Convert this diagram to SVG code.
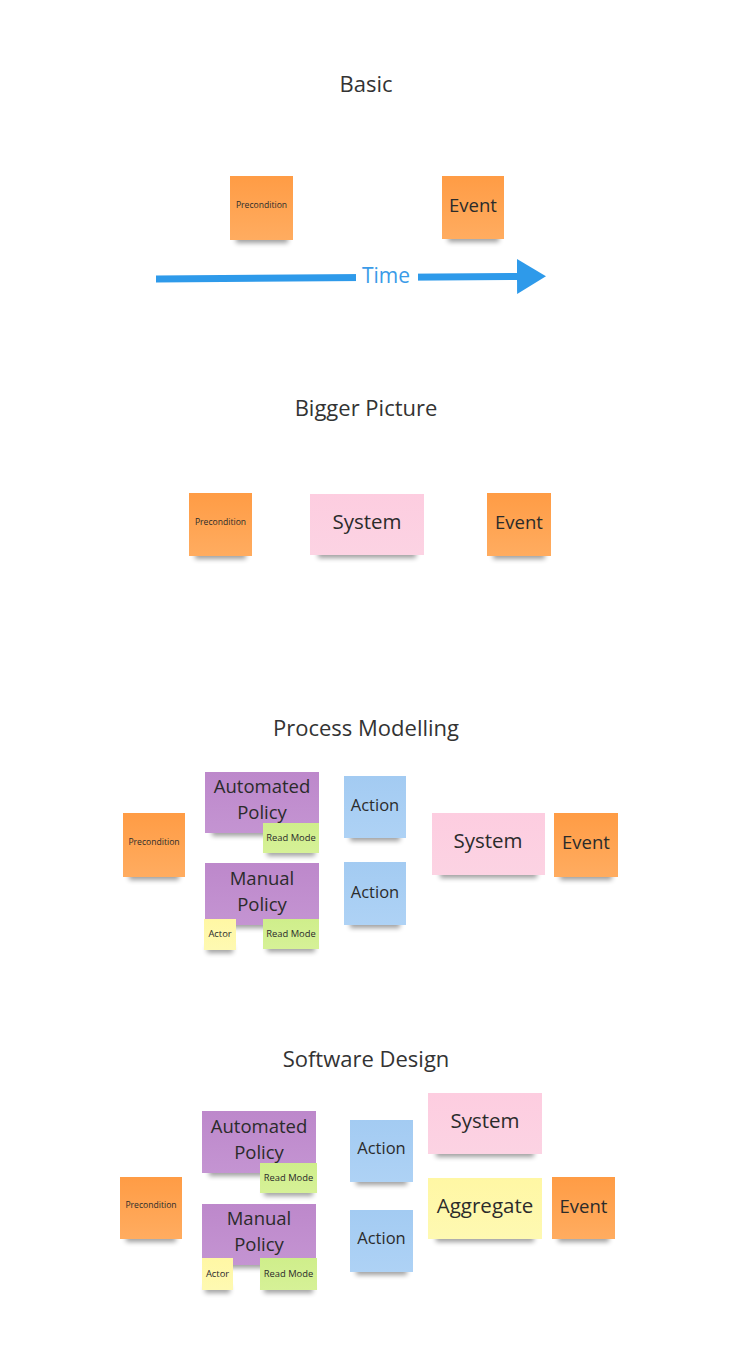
<svg xmlns="http://www.w3.org/2000/svg" width="732" height="1364" viewBox="0 0 732 1364">
<style>
text{font-family:"Open Sans","Liberation Sans",sans-serif;fill:#2b2b2b;text-anchor:middle;dominant-baseline:central}
.title{font-size:22px;fill:#333}
.orange{fill:url(#gO)}
.pink{fill:url(#gP)}
.purple{fill:url(#gV)}
.blue{fill:url(#gB)}
.green{fill:url(#gG)}
.yellow{fill:url(#gY)}
.sh{fill:#000;opacity:.38;filter:url(#blur)}
.s9{font-size:8.6px}
.s10{font-size:9.4px}
.s17{font-size:16.5px}
.s18{font-size:18.5px}
.s20{font-size:20.5px}
.lbl{font-size:21px;fill:#3A9BE8}
</style>
<defs>
<filter id="blur" x="-20%" y="-100%" width="140%" height="300%"><feGaussianBlur stdDeviation="2.4"/></filter>
<linearGradient id="gO" x1="0" y1="0" x2="0" y2="1"><stop offset="0" stop-color="#FF9C45"/><stop offset="1" stop-color="#FFAC60"/></linearGradient>
<linearGradient id="gP" x1="0" y1="0" x2="0" y2="1"><stop offset="0" stop-color="#FDCDE0"/><stop offset="1" stop-color="#FCD3E3"/></linearGradient>
<linearGradient id="gV" x1="0" y1="0" x2="0" y2="1"><stop offset="0" stop-color="#BD88CB"/><stop offset="1" stop-color="#C494D2"/></linearGradient>
<linearGradient id="gB" x1="0" y1="0" x2="0" y2="1"><stop offset="0" stop-color="#A3CBF2"/><stop offset="1" stop-color="#AED2F5"/></linearGradient>
<linearGradient id="gG" x1="0" y1="0" x2="0" y2="1"><stop offset="0" stop-color="#CFEE8B"/><stop offset="1" stop-color="#D6F197"/></linearGradient>
<linearGradient id="gY" x1="0" y1="0" x2="0" y2="1"><stop offset="0" stop-color="#FFF7A4"/><stop offset="1" stop-color="#FEF9B2"/></linearGradient>
<marker id="arr" markerUnits="userSpaceOnUse" markerWidth="31" markerHeight="36" refX="0" refY="17.5" orient="auto" viewBox="0 0 31 36"><path d="M0,0 L29,17.5 L0,35 z" fill="#2E9AEA"/></marker>
</defs>
<rect width="732" height="1364" fill="#fff"/>

<!-- Titles -->
<g id="titles">
<text class="title" x="366" y="83">Basic</text>
<text class="title" x="366" y="407">Bigger Picture</text>
<text class="title" x="366" y="727">Process Modelling</text>
<text class="title" x="366" y="1058">Software Design</text>
</g>

<!-- Connectors -->
<g id="connectors">
<path d="M156,279 L517,276.5" stroke="#2E9AEA" stroke-width="7" fill="none" marker-end="url(#arr)"/>
<rect x="356" y="265" width="62" height="24" fill="#fff"/>
<text class="lbl" x="386" y="275">Time</text>
</g>

<!-- Basic -->
<g id="basic-precondition"><rect class="sh" x="236" y="235" width="52" height="8"/><rect class="orange" x="230" y="176" width="63" height="64"/><text class="s9" x="261.5" y="205">Precondition</text></g>
<g id="basic-event"><rect class="sh" x="448" y="234" width="51" height="8"/><rect class="orange" x="442" y="176" width="62" height="63"/><text class="s18" x="473" y="204">Event</text></g>

<!-- Bigger Picture -->
<g id="bp-precondition"><rect class="sh" x="195" y="551" width="51" height="8"/><rect class="orange" x="189" y="493" width="63" height="63"/><text class="s9" x="220.5" y="522">Precondition</text></g>
<g id="bp-system"><rect class="sh" x="318" y="550" width="98" height="8"/><rect class="pink" x="310" y="494" width="114" height="61"/><text class="s20" x="367" y="521">System</text></g>
<g id="bp-event"><rect class="sh" x="493" y="551" width="52" height="8"/><rect class="orange" x="487" y="493" width="64" height="63"/><text class="s18" x="519" y="521">Event</text></g>

<!-- Process Modelling -->
<g id="pm-precondition"><rect class="sh" x="129" y="872" width="50" height="8"/><rect class="orange" x="123" y="813" width="62" height="64"/><text class="s9" x="154" y="842">Precondition</text></g>
<g id="pm-automated-policy"><rect class="sh" x="212" y="828" width="100" height="8"/><rect class="purple" x="205" y="772" width="114" height="61"/><text class="s18" x="262" y="785">Automated</text><text class="s18" x="262" y="811">Policy</text></g>
<g id="pm-readmode-1"><rect class="sh" x="267" y="849" width="48" height="7"/><rect class="green" x="263" y="823" width="56" height="30"/><text class="s10" x="291" y="837.5">Read Mode</text></g>
<g id="pm-manual-policy"><rect class="sh" x="212" y="920" width="100" height="8"/><rect class="purple" x="205" y="863" width="114" height="62"/><text class="s18" x="262" y="877">Manual</text><text class="s18" x="262" y="903">Policy</text></g>
<g id="pm-actor"><rect class="sh" x="207" y="946" width="26" height="7"/><rect class="yellow" x="204" y="919" width="32" height="31"/><text class="s10" x="220" y="933.5">Actor</text></g>
<g id="pm-readmode-2"><rect class="sh" x="267" y="945" width="48" height="7"/><rect class="green" x="263" y="919" width="56" height="30"/><text class="s10" x="291" y="933.5">Read Mode</text></g>
<g id="pm-action-1"><rect class="sh" x="350" y="833" width="50" height="8"/><rect class="blue" x="344" y="776" width="62" height="62"/><text class="s17" x="375" y="804">Action</text></g>
<g id="pm-action-2"><rect class="sh" x="350" y="920" width="50" height="8"/><rect class="blue" x="344" y="862" width="62" height="63"/><text class="s17" x="375" y="891">Action</text></g>
<g id="pm-system"><rect class="sh" x="440" y="870" width="97" height="8"/><rect class="pink" x="432" y="813" width="113" height="62"/><text class="s20" x="488" y="840">System</text></g>
<g id="pm-event"><rect class="sh" x="560" y="872" width="52" height="8"/><rect class="orange" x="554" y="813" width="64" height="64"/><text class="s18" x="586" y="841">Event</text></g>

<!-- Software Design -->
<g id="sd-precondition"><rect class="sh" x="126" y="1234" width="50" height="8"/><rect class="orange" x="120" y="1177" width="62" height="62"/><text class="s9" x="151" y="1205">Precondition</text></g>
<g id="sd-automated-policy"><rect class="sh" x="209" y="1168" width="100" height="8"/><rect class="purple" x="202" y="1111" width="114" height="62"/><text class="s18" x="259" y="1125">Automated</text><text class="s18" x="259" y="1151">Policy</text></g>
<g id="sd-readmode-1"><rect class="sh" x="264" y="1189" width="49" height="7"/><rect class="green" x="260" y="1163" width="57" height="30"/><text class="s10" x="288.5" y="1177.5">Read Mode</text></g>
<g id="sd-manual-policy"><rect class="sh" x="209" y="1260" width="100" height="8"/><rect class="purple" x="202" y="1204" width="114" height="61"/><text class="s18" x="259" y="1217">Manual</text><text class="s18" x="259" y="1243">Policy</text></g>
<g id="sd-actor"><rect class="sh" x="205" y="1286" width="25" height="7"/><rect class="yellow" x="202" y="1258" width="31" height="32"/><text class="s10" x="217.5" y="1273">Actor</text></g>
<g id="sd-readmode-2"><rect class="sh" x="264" y="1286" width="49" height="7"/><rect class="green" x="260" y="1258" width="57" height="32"/><text class="s10" x="288.5" y="1273">Read Mode</text></g>
<g id="sd-action-1"><rect class="sh" x="356" y="1177" width="51" height="8"/><rect class="blue" x="350" y="1120" width="63" height="62"/><text class="s17" x="381.5" y="1147">Action</text></g>
<g id="sd-action-2"><rect class="sh" x="356" y="1267" width="51" height="8"/><rect class="blue" x="350" y="1210" width="63" height="62"/><text class="s17" x="381.5" y="1237">Action</text></g>
<g id="sd-system"><rect class="sh" x="436" y="1149" width="98" height="8"/><rect class="pink" x="428" y="1093" width="114" height="61"/><text class="s20" x="485" y="1120">System</text></g>
<g id="sd-aggregate"><rect class="sh" x="436" y="1234" width="98" height="8"/><rect class="yellow" x="428" y="1178" width="114" height="61"/><text class="s20" x="485" y="1205">Aggregate</text></g>
<g id="sd-event"><rect class="sh" x="558" y="1234" width="51" height="8"/><rect class="orange" x="552" y="1177" width="63" height="62"/><text class="s18" x="583.5" y="1205">Event</text></g>
</svg>
